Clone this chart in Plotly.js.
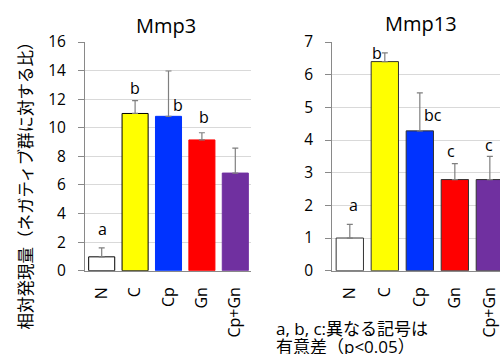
<!DOCTYPE html>
<html><head><meta charset="utf-8">
<script src="https://cdn.plot.ly/plotly-3.0.1.min.js"></script>
<style>html,body{margin:0;padding:0;overflow:hidden;background:#fff}</style>
</head><body><div id="chart" style="width:500px;height:354px"></div>
<script>
// ---- data ----
const groups = ["N", "C", "Cp", "Gn", "Cp+Gn"];
const mmp3Mean = [0.97, 11.0, 10.8, 9.15, 6.83];
const mmp3Err = [0.62, 0.9, 3.17, 0.5, 1.75];
const mmp13Mean = [1.0, 6.4, 4.28, 2.79, 2.79];
const mmp13Err = [0.42, 0.27, 1.16, 0.49, 0.71];
const mmp3Letters = ["a", "b", "b", "b", ""];
const mmp13Letters = ["a", "b", "bc", "c", "c"];
// label anchor heights (data units)
const mmp3LetterY = [2.92, 12.75, 11.6, 10.72, null];
const mmp13LetterY = [2.0, 6.67, 4.78, 3.65, 3.86];
const mmp3LetterShift = [1, 0, 9, 2, 0];
const mmp13LetterShift = [4, -8, 13, -4, -1];
const noteLines = ["a, b, c:異なる記号は", "有意差（p<0.05）"];

const barColors = ["#ffffff", "#ffff00", "#0033ff", "#ff0000", "#7030a0"];
const lineColors3 = ["#000000", "#000000", "#0033ff", "#ff0000", "#7030a0"];
const lineColors13 = ["#333333", "#333333", "#333333", "#333333", "#333333"];

const FONT = "Open Sans, Noto Sans CJK JP, sans-serif";
const AX = "#898989";

function errBar(arr) {
  return {type: "data", array: arr, arrayminus: arr.map(() => 0), symmetric: false,
          color: "#7f7f7f", thickness: 1.2, width: 3};
}

const traces = [
  {type: "bar", x: groups, y: mmp3Mean, xaxis: "x", yaxis: "y",
   marker: {color: barColors, line: {color: lineColors3, width: 1}},
   error_y: errBar(mmp3Err), hoverinfo: "x+y", showlegend: false},
  {type: "bar", x: groups, y: mmp13Mean, xaxis: "x2", yaxis: "y2",
   marker: {color: barColors, line: {color: lineColors13, width: 1}},
   error_y: errBar(mmp13Err), hoverinfo: "x+y", showlegend: false}
];

const annotations = [];
groups.forEach((g, i) => {
  if (mmp3Letters[i]) annotations.push({x: g, y: mmp3LetterY[i], xref: "x", yref: "y",
    text: mmp3Letters[i], showarrow: false, xshift: mmp3LetterShift[i],
    xanchor: "center", yanchor: "middle",
    font: {family: FONT, size: 16, color: "#000"}});
  if (mmp13Letters[i]) annotations.push({x: g, y: mmp13LetterY[i], xref: "x2", yref: "y2",
    text: mmp13Letters[i], showarrow: false, xshift: mmp13LetterShift[i],
    xanchor: "center", yanchor: "middle",
    font: {family: FONT, size: 16, color: "#000"}});
});
annotations.push(
  {text: "Mmp3", xref: "paper", yref: "paper", x: 166 / 500, y: 1 - 26 / 354,
   xanchor: "center", yanchor: "middle", showarrow: false,
   font: {family: FONT, size: 20, color: "#000"}},
  {text: "Mmp13", xref: "paper", yref: "paper", x: 421 / 500, y: 1 - 23 / 354,
   xanchor: "center", yanchor: "middle", showarrow: false,
   font: {family: FONT, size: 20, color: "#000"}},
  {text: "相対発現量（ネガティブ群に対する比）", xref: "paper", yref: "paper",
   x: 25 / 500, y: 1 - 181.5 / 354, xanchor: "center", yanchor: "middle",
   textangle: -90, showarrow: false,
   font: {family: FONT, size: 16.5, color: "#000"}},
  {text: noteLines[0], xref: "paper", yref: "paper",
   x: 274 / 500, y: 1 - 328.5 / 354, xanchor: "left", yanchor: "middle", showarrow: false,
   font: {family: FONT, size: 17, color: "#000"}},
  {text: noteLines[1], xref: "paper", yref: "paper",
   x: 274 / 500, y: 1 - 346.5 / 354, xanchor: "left", yanchor: "middle", showarrow: false,
   font: {family: FONT, size: 17, color: "#000"}}
);

const yDom = [1 - 270.7 / 354, 1 - 42 / 354];
const xCommon = {type: "category", tickangle: -90, showline: true, linecolor: AX, linewidth: 1,
  ticks: "", showgrid: false, zeroline: false, ticklabelstandoff: 9,
  tickfont: {family: FONT, size: 16, color: "#000"}};
const yCommon = {showline: true, linecolor: AX, linewidth: 1, ticks: "outside", ticklen: 6,
  tickcolor: AX, showgrid: true, gridcolor: "#d9d9d9", zeroline: false, ticklabelstandoff: 9,
  tickfont: {family: FONT, size: 15.5, color: "#000"}, domain: yDom};

const layout = {
  width: 500, height: 354,
  margin: {l: 0, r: 0, t: 0, b: 0},
  paper_bgcolor: "#fff", plot_bgcolor: "#fff",
  bargap: 0.22, showlegend: false,
  font: {family: FONT, color: "#000"},
  xaxis: Object.assign({}, xCommon, {domain: [85 / 500, 251 / 500], range: [-0.5, 4.47], anchor: "y"}),
  xaxis2: Object.assign({}, xCommon, {domain: [332.3 / 500, 1], range: [-0.5, 4.29], anchor: "y2"}),
  yaxis: Object.assign({}, yCommon, {range: [0, 16], dtick: 2, anchor: "x"}),
  yaxis2: Object.assign({}, yCommon, {range: [0, 7], dtick: 1, anchor: "x2"}),
  annotations: annotations
};

Plotly.newPlot("chart", traces, layout, {displayModeBar: false, staticPlot: true});
</script></body></html>
